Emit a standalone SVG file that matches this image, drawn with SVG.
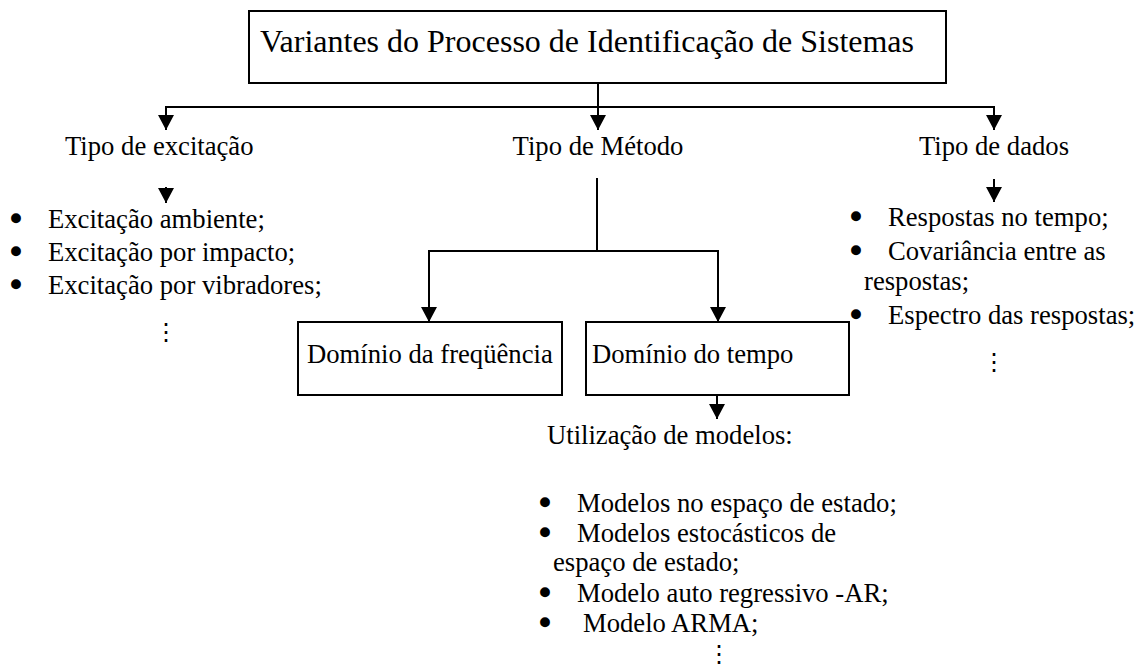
<svg xmlns="http://www.w3.org/2000/svg" width="1141" height="666" viewBox="0 0 1141 666">
<style>
text{font-family:"Liberation Serif","Times New Roman",serif;font-size:26.67px;fill:#000}
.title{font-size:32px}
.mid{text-anchor:middle}
.bul{font-size:27px;text-anchor:middle;stroke:#000;stroke-width:3.4;stroke-linejoin:round}
.dots{font-family:"DejaVu Serif",serif;font-size:24px;text-anchor:middle}
.box{fill:#fff;stroke:#000;stroke-width:2}
.con{fill:none;stroke:#000;stroke-width:2}
</style>
<defs>
<marker id="arr" markerUnits="userSpaceOnUse" markerWidth="16" markerHeight="16" viewBox="0 0 16 16" refX="15" refY="8" orient="auto">
<path d="M0,0 L15,8 L0,16 Z" fill="#000"/>
</marker>
</defs>
<rect width="1141" height="666" fill="#fff"/>
<g id="connectors">
<path class="con" d="M598,83 V130" marker-end="url(#arr)"/>
<path class="con" d="M598,107 H166 V130" marker-end="url(#arr)"/>
<path class="con" d="M598,107 H994 V130" marker-end="url(#arr)"/>
<path class="con" d="M166,187 V203" marker-end="url(#arr)"/>
<path class="con" d="M994,179 V202" marker-end="url(#arr)"/>
<path class="con" d="M597,178 V251"/>
<path class="con" d="M597,251 H429 V322" marker-end="url(#arr)"/>
<path class="con" d="M597,251 H718 V322" marker-end="url(#arr)"/>
<path class="con" d="M717,395 V419" marker-end="url(#arr)"/>
</g>
<g id="title">
<rect class="box" x="249" y="11" width="697" height="72"/>
<text class="title" x="260" y="52">Variantes do Processo de Identificação de Sistemas</text>
</g>
<g id="tipo-excitacao">
<text x="65" y="155">Tipo de excitação</text>
<text class="bul" x="16" y="228">•</text>
<text class="bul" x="16" y="261">•</text>
<text class="bul" x="16" y="294">•</text>
<text x="48" y="228">Excitação ambiente;</text>
<text x="48" y="261">Excitação por impacto;</text>
<text x="48" y="294">Excitação por vibradores;</text>
<text class="dots" x="166" y="340">⋮</text>
</g>
<g id="tipo-metodo">
<text class="mid" x="598" y="155">Tipo de Método</text>
</g>
<g id="tipo-dados">
<text class="mid" x="994" y="155">Tipo de dados</text>
<text class="bul" x="856" y="226">•</text>
<text class="bul" x="856" y="260">•</text>
<text class="bul" x="856" y="324">•</text>
<text x="888" y="226">Respostas no tempo;</text>
<text x="888" y="260">Covariância entre as</text>
<text x="864" y="290">respostas;</text>
<text x="888" y="324">Espectro das respostas;</text>
<text class="dots" x="994" y="370">⋮</text>
</g>
<g id="dominio-frequencia">
<rect class="box" x="298" y="322" width="264" height="73"/>
<text x="307" y="363">Domínio da freqüência</text>
</g>
<g id="dominio-tempo">
<rect class="box" x="586" y="322" width="263" height="73"/>
<text x="592" y="363">Domínio do tempo</text>
</g>
<g id="modelos">
<text x="547" y="444">Utilização de modelos:</text>
<text class="bul" x="545" y="512">•</text>
<text class="bul" x="545" y="542">•</text>
<text class="bul" x="545" y="602">•</text>
<text class="bul" x="545" y="632">•</text>
<text x="577" y="512">Modelos no espaço de estado;</text>
<text x="577" y="542">Modelos estocásticos de</text>
<text x="553" y="571">espaço de estado;</text>
<text x="577" y="602">Modelo auto regressivo -AR;</text>
<text x="583" y="632">Modelo ARMA;</text>
<text class="dots" x="719" y="662">⋮</text>
</g>
</svg>
